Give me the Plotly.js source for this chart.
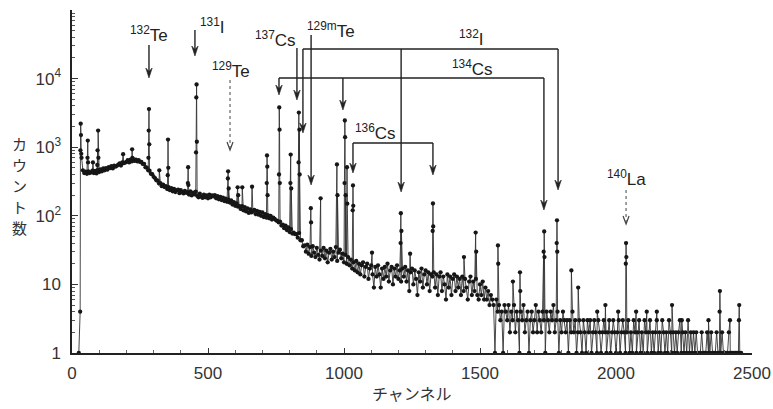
<!DOCTYPE html>
<html><head><meta charset="utf-8">
<script src="https://cdn.plot.ly/plotly-3.0.1.min.js"></script>
<style>html,body{margin:0;padding:0;background:#fff}</style>
</head><body><div id="chart" style="width:773px;height:409px"></div>
<script>
// ---------------- DATA ----------------
// Background spectrum: counts every 5 channels starting at channel 25
const baseStartChannel = 25;
const baseStepChannel = 5;
const baseCounts = [
  1,4,700,460,420,440,410,445,420,430,455,420,450,415,465,435,475,445,490,460,
  495,470,510,495,530,490,540,520,535,555,580,540,600,585,595,610,650,600,660,620,
  670,630,660,620,650,610,610,570,570,510,505,460,455,410,405,370,355,330,325,295,
  300,270,285,262,270,245,262,236,252,228,246,222,235,240,214,236,220,212,230,216,
  222,204,226,198,218,206,224,196,186,210,190,182,204,186,198,180,204,186,198,192,
  200,180,194,174,188,170,184,164,178,160,172,156,168,146,158,140,152,136,138,126,
  138,120,134,116,128,110,124,112,116,122,106,118,104,114,100,112,96,106,94,102,
  92,100,88,94,90,86,84,80,82,72,74,66,72,62,68,58,64,55,57,54,
  54,48,56,44,44,36,37,30,38,28,35,26,36,29,25,34,27,23,31,26,
  34,24,31,21,29,33,23,30,25,35,22,29,32,24,28,21,27,20,25,19,
  23,17,21,16,22,15,20,14,19,21,13,18,20,12,17,19,14,9,18,13,
  19,14,9,17,12,18,13,20,11,16,18,10,17,13,19,12,16,11,17,13,
  18,11,16,8,15,17,10,16,12,7,15,11,17,9,14,16,10,15,8,14,
  13,15,9,14,7,13,15,8,13,10,6,14,9,13,7,12,14,8,13,9,
  12,7,13,8,12,9,6,11,13,7,11,8,12,7,6,10,7,11,6,9,
  6,8,5,7,6,5,1,6,4,5,3,4,1,5,4,3,5,2,4,3,
  5,2,4,3,1,4,3,5,2,3,4,1,3,4,2,3,5,2,4,3,
  2,4,3,1,4,3,2,4,3,5,2,3,4,1,3,2,4,3,2,3,
  1,3,2,4,2,3,1,2,3,2,1,3,2,1,3,2,3,1,2,3,
  2,1,3,2,1,2,3,2,1,2,3,1,2,3,2,1,2,3,1,2,
  3,2,1,2,3,1,2,1,3,2,1,2,3,1,2,1,3,2,1,2,
  3,1,2,1,2,3,1,2,1,3,2,1,2,1,3,2,1,2,1,2,
  1,2,3,1,2,1,2,1,3,1,2,1,2,1,2,1,1,1,2,1,
  1,1,2,1,1,2,1,1,1,2,1,1,1,2,1,1,1,1,2,1,
  1,1,1,1,1,1,1,1
];
// Peak channels and their counts
const peakChannels = [
  [31,32,33,34],[57,58,59],[77],[93,94,96,97],[188],[221,222],[281,282,283,284],[321],
  [352,353,354],[426,427,428],[456,457,458,459],[573,574,576],[609,611],[626],[662],
  [716,717,718,719],[761,762,763,764],[803,804,806],[833,834,836,837],[878,879],[914],
  [974,976],[1002,1003,1004,1006],[1011,1012],[1032,1033,1034],[1103],[1208,1209,1211],
  [1243],[1326,1327,1328],[1441],[1484,1486],[1566,1567],[1621],[1647,1648],
  [1734,1736,1737],[1782,1783,1784],[1836],[1861],[1931],[1961],[2008],[2036,2037,2038],
  [2074],[2113],[2150],[2206],[2242],[2340],[2381,2382],[2419],[2452,2453]
];
const peakCounts = [
  [900,2200,1500,800],[700,1250,600],[600],[550,900,1750,700],[790],[930,700],[700,1750,3600,1100],[460],
  [390,1290,500],[300,510,280],[840,5300,8200,1200],[350,445,250],[260,200],[260],[265],
  [300,760,520,200],[400,3800,1800,300],[300,780,250],[600,3200,1800,400],[129,80],[180],
  [560,200],[300,2450,1400,200],[510,150],[120,277,140],[29],[40,109,60],
  [28],[60,151,70],[25],[57,30],[37,20],[11],[15,8],
  [30,59,25],[40,86,30],[16],[9],[4],[5],[4],[20,40,25],
  [4],[4],[4],[5],[3],[3],[4,8],[3],[3,5]
];
// Isotope labels and the channels their arrows point at
const isotopeLabels = ['<sup>132</sup>Te','<sup>131</sup>I','<sup>129</sup>Te','<sup>137</sup>Cs',
  '<sup>129m</sup>Te','<sup>132</sup>I','<sup>134</sup>Cs','<sup>136</sup>Cs','<sup>140</sup>La'];
const isotopeChannels = [[283],[452],[581],[827],[879],[849,1210,1787],[761,996,1735],[1033,1327],[2037]];
// Axis tick labels
const xTickValues = [0,500,1000,1500,2000,2500];
const yTickValues = [1,10,100,1000,10000];
const yTickText = ['1','10','10<sup>2</sup>','10<sup>3</sup>','10<sup>4</sup>'];
const xTitle = 'チャンネル';
const yTitle = 'カウント数';

// ---------------- BUILD ----------------
const pts = [];
baseCounts.forEach((c, i) => pts.push([baseStartChannel + i * baseStepChannel, c]));
peakChannels.forEach((chs, k) => chs.forEach((ch, j) => pts.push([ch, peakCounts[k][j]])));
pts.sort((a, b) => a[0] - b[0]);

const trace = {
  x: pts.map(p => p[0]), y: pts.map(p => p[1]),
  type: 'scatter', mode: 'lines+markers',
  line: {color: '#333', width: 0.9},
  marker: {color: '#161616', size: 4.3},
  hoverinfo: 'skip'
};

// geometry (styling) in pixels
const TOP = 10, BOT = 353, LEFT = 72, RIGHT = 752;
const X_MAX = 2500;
const PY = Y => (BOT - Y) / (BOT - TOP);
const PXp = X => (X - LEFT) / (RIGHT - LEFT);
const chPerPx = X_MAX / (RIGHT - LEFT);
const labelPos = [[149,34],[212,26],[231,70],[275,39],[331,30],[471,38],[472,68],[375,132],[626,178]];
const arrowGeom = [
  {tail:45, tips:[78]}, {tail:30, tips:[56]}, {tail:80, tips:[150], dotted:true},
  {tail:48, tips:[100]}, {tail:35, tips:[185]},
  {bar:49, tips:[133,192,190]}, {bar:78, tips:[95,110,210]}, {bar:143, tips:[173,175]},
  {tail:190, tips:[224], dotted:true}
];
const ink = '#222';
const annotations = [], shapes = [];
const labelFont = {family: 'Liberation Sans, Arial, sans-serif', size: 17, color: ink};

function vline(ch, y0, y1, color, width, dash) {
  shapes.push({type: 'line', xref: 'x', yref: 'paper', x0: ch, x1: ch, y0: PY(y0), y1: PY(y1),
    line: {color: color, width: width, dash: dash || 'solid'}});
}
function solidHead(ch, tip) {
  const w = 3.2 * chPerPx;
  const p = `M${ch},${PY(tip)} L${ch - w},${PY(tip - 10)} L${ch},${PY(tip - 6.5)} L${ch + w},${PY(tip - 10)} Z`;
  shapes.push({type: 'path', xref: 'x', yref: 'paper', path: p, fillcolor: ink, line: {color: ink, width: 0.6}});
}
function openHead(ch, tip) {
  const w = 3 * chPerPx;
  const p = `M${ch - w},${PY(tip - 8)} L${ch},${PY(tip)} L${ch + w},${PY(tip - 8)}`;
  shapes.push({type: 'path', xref: 'x', yref: 'paper', path: p, line: {color: '#444', width: 1.2}});
}

isotopeLabels.forEach((t, i) => {
  annotations.push({text: t, xref: 'paper', yref: 'paper', x: PXp(labelPos[i][0]), y: PY(labelPos[i][1]),
    xanchor: 'center', yanchor: 'middle', showarrow: false, font: labelFont});
  const g = arrowGeom[i];
  const chs = isotopeChannels[i];
  if (g.bar !== undefined) {
    shapes.push({type: 'line', xref: 'x', yref: 'paper', x0: chs[0], x1: chs[chs.length - 1],
      y0: PY(g.bar), y1: PY(g.bar), line: {color: ink, width: 1.4}});
  }
  chs.forEach((ch, j) => {
    const tail = g.bar !== undefined ? g.bar : g.tail;
    const tip = g.tips[j];
    if (g.dotted) {
      vline(ch, tail, tip - 1, '#444', 1, 'dot');
      openHead(ch, tip);
    } else {
      vline(ch, tail, tip - 6, ink, 1.4);
      solidHead(ch, tip);
    }
  });
});
// vertical y-axis title, one character per line (upright, as in the reference)
const titleFont = {family: 'Noto Sans CJK JP', size: 15, color: '#333'};
const yTitleRows = [143, 164, 185, 206, 227];
yTitle.split('').forEach((ch, i) => {
  annotations.push({text: ch, xref: 'paper', yref: 'paper', x: PXp(19), y: PY(yTitleRows[i]),
    xanchor: 'center', yanchor: 'middle', showarrow: false, font: titleFont, borderpad: 0});
});
annotations.push({text: xTitle, xref: 'paper', yref: 'paper', x: 0.5, y: PY(393),
  xanchor: 'center', yanchor: 'middle', showarrow: false,
  font: {family: 'Noto Sans CJK JP', size: 16, color: '#333'}});

const tickFont = {family: 'Liberation Sans, Arial, sans-serif', size: 17, color: '#333'};
const layout = {
  width: 773, height: 409,
  margin: {l: LEFT, r: 773 - RIGHT, t: TOP, b: 409 - BOT},
  paper_bgcolor: '#fff', plot_bgcolor: '#fff',
  showlegend: false,
  xaxis: {range: [0, X_MAX], tickvals: xTickValues, ticks: 'inside', ticklen: 5, tickcolor: '#333',
    showline: true, linecolor: '#222', linewidth: 1.6, showgrid: false, zeroline: false,
    tickfont: tickFont, ticklabelstandoff: 4,
    minor: {ticks: 'inside', ticklen: 3, dtick: 100, tickcolor: '#666', showgrid: false}},
  yaxis: {type: 'log', range: [0, 5], tickvals: yTickValues, ticktext: yTickText,
    ticks: 'inside', ticklen: 6, tickcolor: '#333',
    showline: true, linecolor: '#222', linewidth: 1.6, showgrid: false, zeroline: false,
    tickfont: tickFont, ticklabelstandoff: 6,
    minor: {ticks: 'inside', ticklen: 3, dtick: 'D1', tickcolor: '#555', showgrid: false}},
  annotations: annotations, shapes: shapes
};
Plotly.newPlot('chart', [trace], layout, {staticPlot: true, displayModeBar: false});
</script></body></html>
